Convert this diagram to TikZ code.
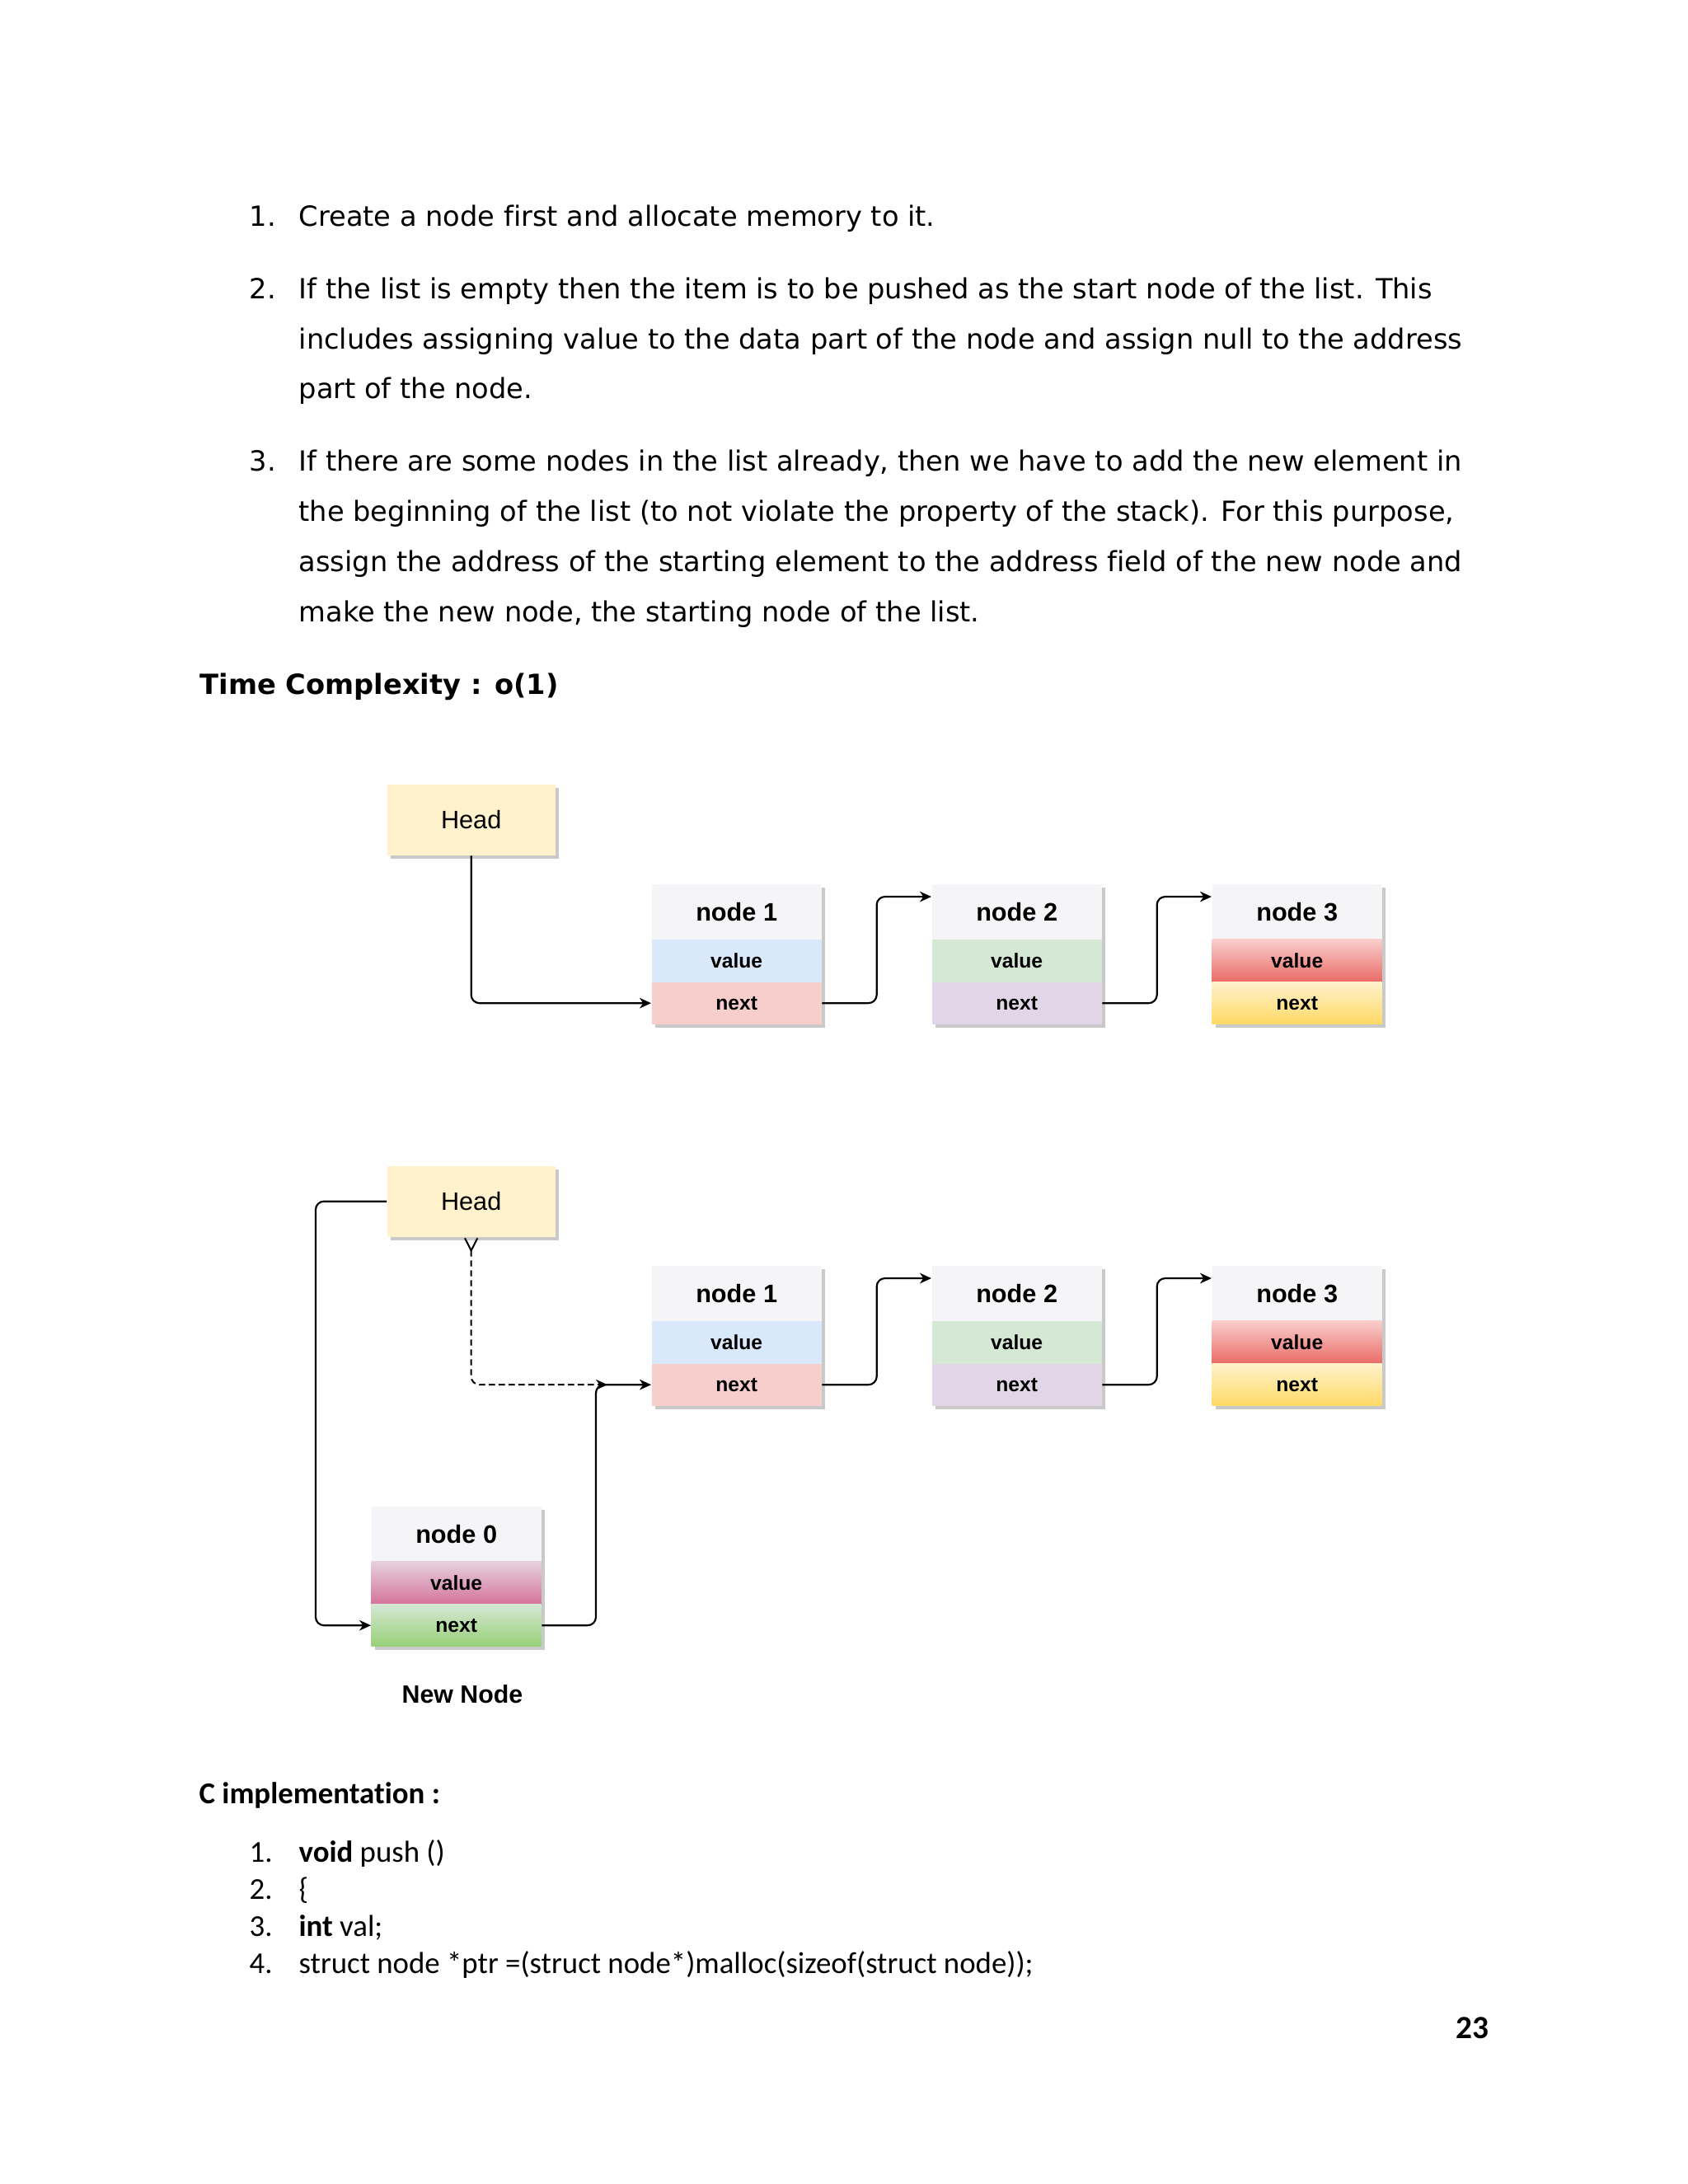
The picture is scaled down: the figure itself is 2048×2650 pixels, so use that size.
\documentclass[tikz,border=0pt]{standalone}
\usepackage{fontspec}
\usetikzlibrary{arrows.meta,calc}
\newfontfamily\dejavu[Ligatures=NoCommon]{DejaVu Sans}
\newfontfamily\carl[Ligatures=NoCommon]{Carlito}
\newfontfamily\libsans{Liberation Sans}
\definecolor{hdr}{HTML}{F5F4F7}
\definecolor{headfill}{HTML}{FFF2CC}
\definecolor{cblue}{HTML}{DAE8FC}
\definecolor{cpink}{HTML}{F8CECC}
\definecolor{cgreen}{HTML}{D5E8D4}
\definecolor{cpurple}{HTML}{E1D5E7}
\definecolor{redtop}{HTML}{F8CECC}
\definecolor{redbot}{HTML}{EA6B66}
\definecolor{yeltop}{HTML}{FFF2CC}
\definecolor{yelbot}{HTML}{FFD966}
\definecolor{pinktop}{HTML}{E6D0DE}
\definecolor{pinkbot}{HTML}{D5739D}
\definecolor{grntop}{HTML}{D5E8D4}
\definecolor{grnbot}{HTML}{97D077}
\definecolor{shd}{HTML}{C9C9C9}
\newcommand\bodyfont{\dejavu\fontsize{10.1pt}{12pt}\selectfont}
\newcommand\codefont{\carl\fontsize{11.05pt}{13pt}\selectfont}
\tikzset{
  body/.style={anchor=base west,inner sep=0pt,font=\bodyfont},
  code/.style={anchor=base west,inner sep=0pt,font=\codefont},
  cell/.style={inner sep=0pt,minimum width=61.8pt,anchor=north west,
    font=\libsans\bfseries\fontsize{7.4pt}{8pt}\selectfont},
  titlecell/.style={cell,minimum height=20.1pt,fill=hdr,
    font=\libsans\bfseries\fontsize{9.2pt}{10pt}\selectfont},
  valcell/.style={cell,minimum height=15.6pt},
  nextcell/.style={cell,minimum height=15.3pt},
  headbox/.style={inner sep=0pt,minimum width=61.2pt,minimum height=25.8pt,
    anchor=north west,fill=headfill,font=\libsans\fontsize{9.2pt}{10pt}\selectfont},
  conn/.style={line width=0.65pt,rounded corners=3pt,
    -{Stealth[length=4.2pt,width=3.8pt,inset=1.3pt]}},
  dconn/.style={line width=0.6pt,rounded corners=3pt,dash pattern=on 2.2pt off 1.4pt,
    {Straight Barb[reversed,length=4.5pt,width=4.6pt,line width=0.6pt]}-{Stealth[length=4.2pt,width=3.8pt,inset=1.3pt]}},
}
\newcommand\llnode[6]{%
  \fill[shd] (#2+5,#3+5) rectangle (#2+211,#3+175);
  \node[titlecell] (#1t) at (#2,#3) {#4};
  \node[valcell,#5] (#1v) at (#2,#3+67) {value};
  \node[nextcell,#6] (#1n) at (#2,#3+119) {next};
}
\newcommand\headnode[3]{%
  \fill[shd] (#2+5,#3+5) rectangle (#2+209,#3+91);
  \node[headbox] (#1) at (#2,#3) {Head};
}
\begin{document}
\begin{tikzpicture}[x=0.3pt,y=-0.3pt]
\useasboundingbox[fill=white] (0,0) rectangle (2048,2650);

% ---------- text ----------
\node[body] (n1) at (302,274) {1.};
\node[body] (l1) at (362,274) {Create a node first and allocate memory to it.};
\node[body] (n2) at (302,362) {2.};
\node[body] (l2a) at (362,362) {If the list is empty then the item is to be pushed as the start node of the list. This};
\node[body] (l2b) at (362,423) {includes assigning value to the data part of the node and assign null to the address};
\node[body] (l2c) at (362,483) {part of the node.};
\node[body] (n3) at (302,571) {3.};
\node[body] (l3a) at (362,571) {If there are some nodes in the list already, then we have to add the new element in};
\node[body] (l3b) at (362,632) {the beginning of the list (to not violate the property of the stack). For this purpose,};
\node[body] (l3c) at (362,693) {assign the address of the starting element to the address field of the new node and};
\node[body] (l3d) at (362,754) {make the new node, the starting node of the list.};
\node[body,font=\bodyfont\bfseries] (tc) at (242,842) {Time Complexity : o(1)};

% ---------- diagram 1 ----------
\headnode{h1}{469}{951}
\llnode{a1}{790}{1072}{node 1}{fill=cblue}{fill=cpink}
\llnode{a2}{1130}{1072}{node 2}{fill=cgreen}{fill=cpurple}
\llnode{a3}{1470}{1072}{node 3}{top color=redtop,bottom color=redbot}{top color=yeltop,bottom color=yelbot}

\coordinate (a2in) at ($(a2t.north west)+(0,16)$);
\coordinate (a3in) at ($(a3t.north west)+(0,16)$);
\coordinate (m12) at ($(a1n.east)!.5!(a2in)$);
\coordinate (m23) at ($(a2n.east)!.5!(a3in)$);
\draw[conn] (h1.south) |- (a1n.west);
\draw[conn] (a1n.east) -- (m12 |- a1n.east) -- (m12 |- a2in) -- (a2in);
\draw[conn] (a2n.east) -- (m23 |- a2n.east) -- (m23 |- a3in) -- (a3in);

% ---------- diagram 2 ----------
\headnode{h2}{469}{1414}
\llnode{b1}{790}{1535}{node 1}{fill=cblue}{fill=cpink}
\llnode{b2}{1130}{1535}{node 2}{fill=cgreen}{fill=cpurple}
\llnode{b3}{1470}{1535}{node 3}{top color=redtop,bottom color=redbot}{top color=yeltop,bottom color=yelbot}
\llnode{z0}{450}{1827}{node 0}{top color=pinktop,bottom color=pinkbot}{top color=grntop,bottom color=grnbot}
\node[inner sep=0pt,font=\libsans\bfseries\fontsize{9.1pt}{10pt}\selectfont] (newlbl) at (561,2056) {New Node};

\coordinate (b2in) at ($(b2t.north west)+(0,16)$);
\coordinate (b3in) at ($(b3t.north west)+(0,16)$);
\coordinate (k12) at ($(b1n.east)!.5!(b2in)$);
\coordinate (k23) at ($(b2n.east)!.5!(b3in)$);
\coordinate (lx) at (383,0);
\coordinate (jx) at (723,0);
\coordinate (dend) at (737,0);

\draw[conn] (h2.west) -- (lx |- h2.west) -- (lx |- z0n.west) -- (z0n.west);
\draw[conn] (z0n.east) -- (jx |- z0n.east) -- (jx |- b1n.west) -- (b1n.west);
\draw[dconn] (h2.south) |- (dend |- b1n.west);
\draw[conn] (b1n.east) -- (k12 |- b1n.east) -- (k12 |- b2in) -- (b2in);
\draw[conn] (b2n.east) -- (k23 |- b2n.east) -- (k23 |- b3in) -- (b3in);

% ---------- C implementation ----------
\node[code,font=\codefont\bfseries] (ci) at (241,2188) {C implementation :};
\node[code] (c1n) at (302,2259) {1.};
\node[code] (c1) at (362,2259) {\textbf{void} push ()};
\node[code] (c2n) at (302,2304) {2.};
\node[code] (c2) at (362,2304) {\{};
\node[code] (c3n) at (302,2349) {3.};
\node[code] (c3) at (362,2349) {\textbf{int} val;};
\node[code] (c4n) at (302,2394) {4.};
\node[code] (c4) at (362,2394) {struct node *ptr =(struct node*)malloc(sizeof(struct node));};
\node[anchor=base east,inner sep=0pt,font=\carl\bfseries\fontsize{11.8pt}{13pt}\selectfont] (pg) at (1807,2473) {23};
\end{tikzpicture}
\end{document}
